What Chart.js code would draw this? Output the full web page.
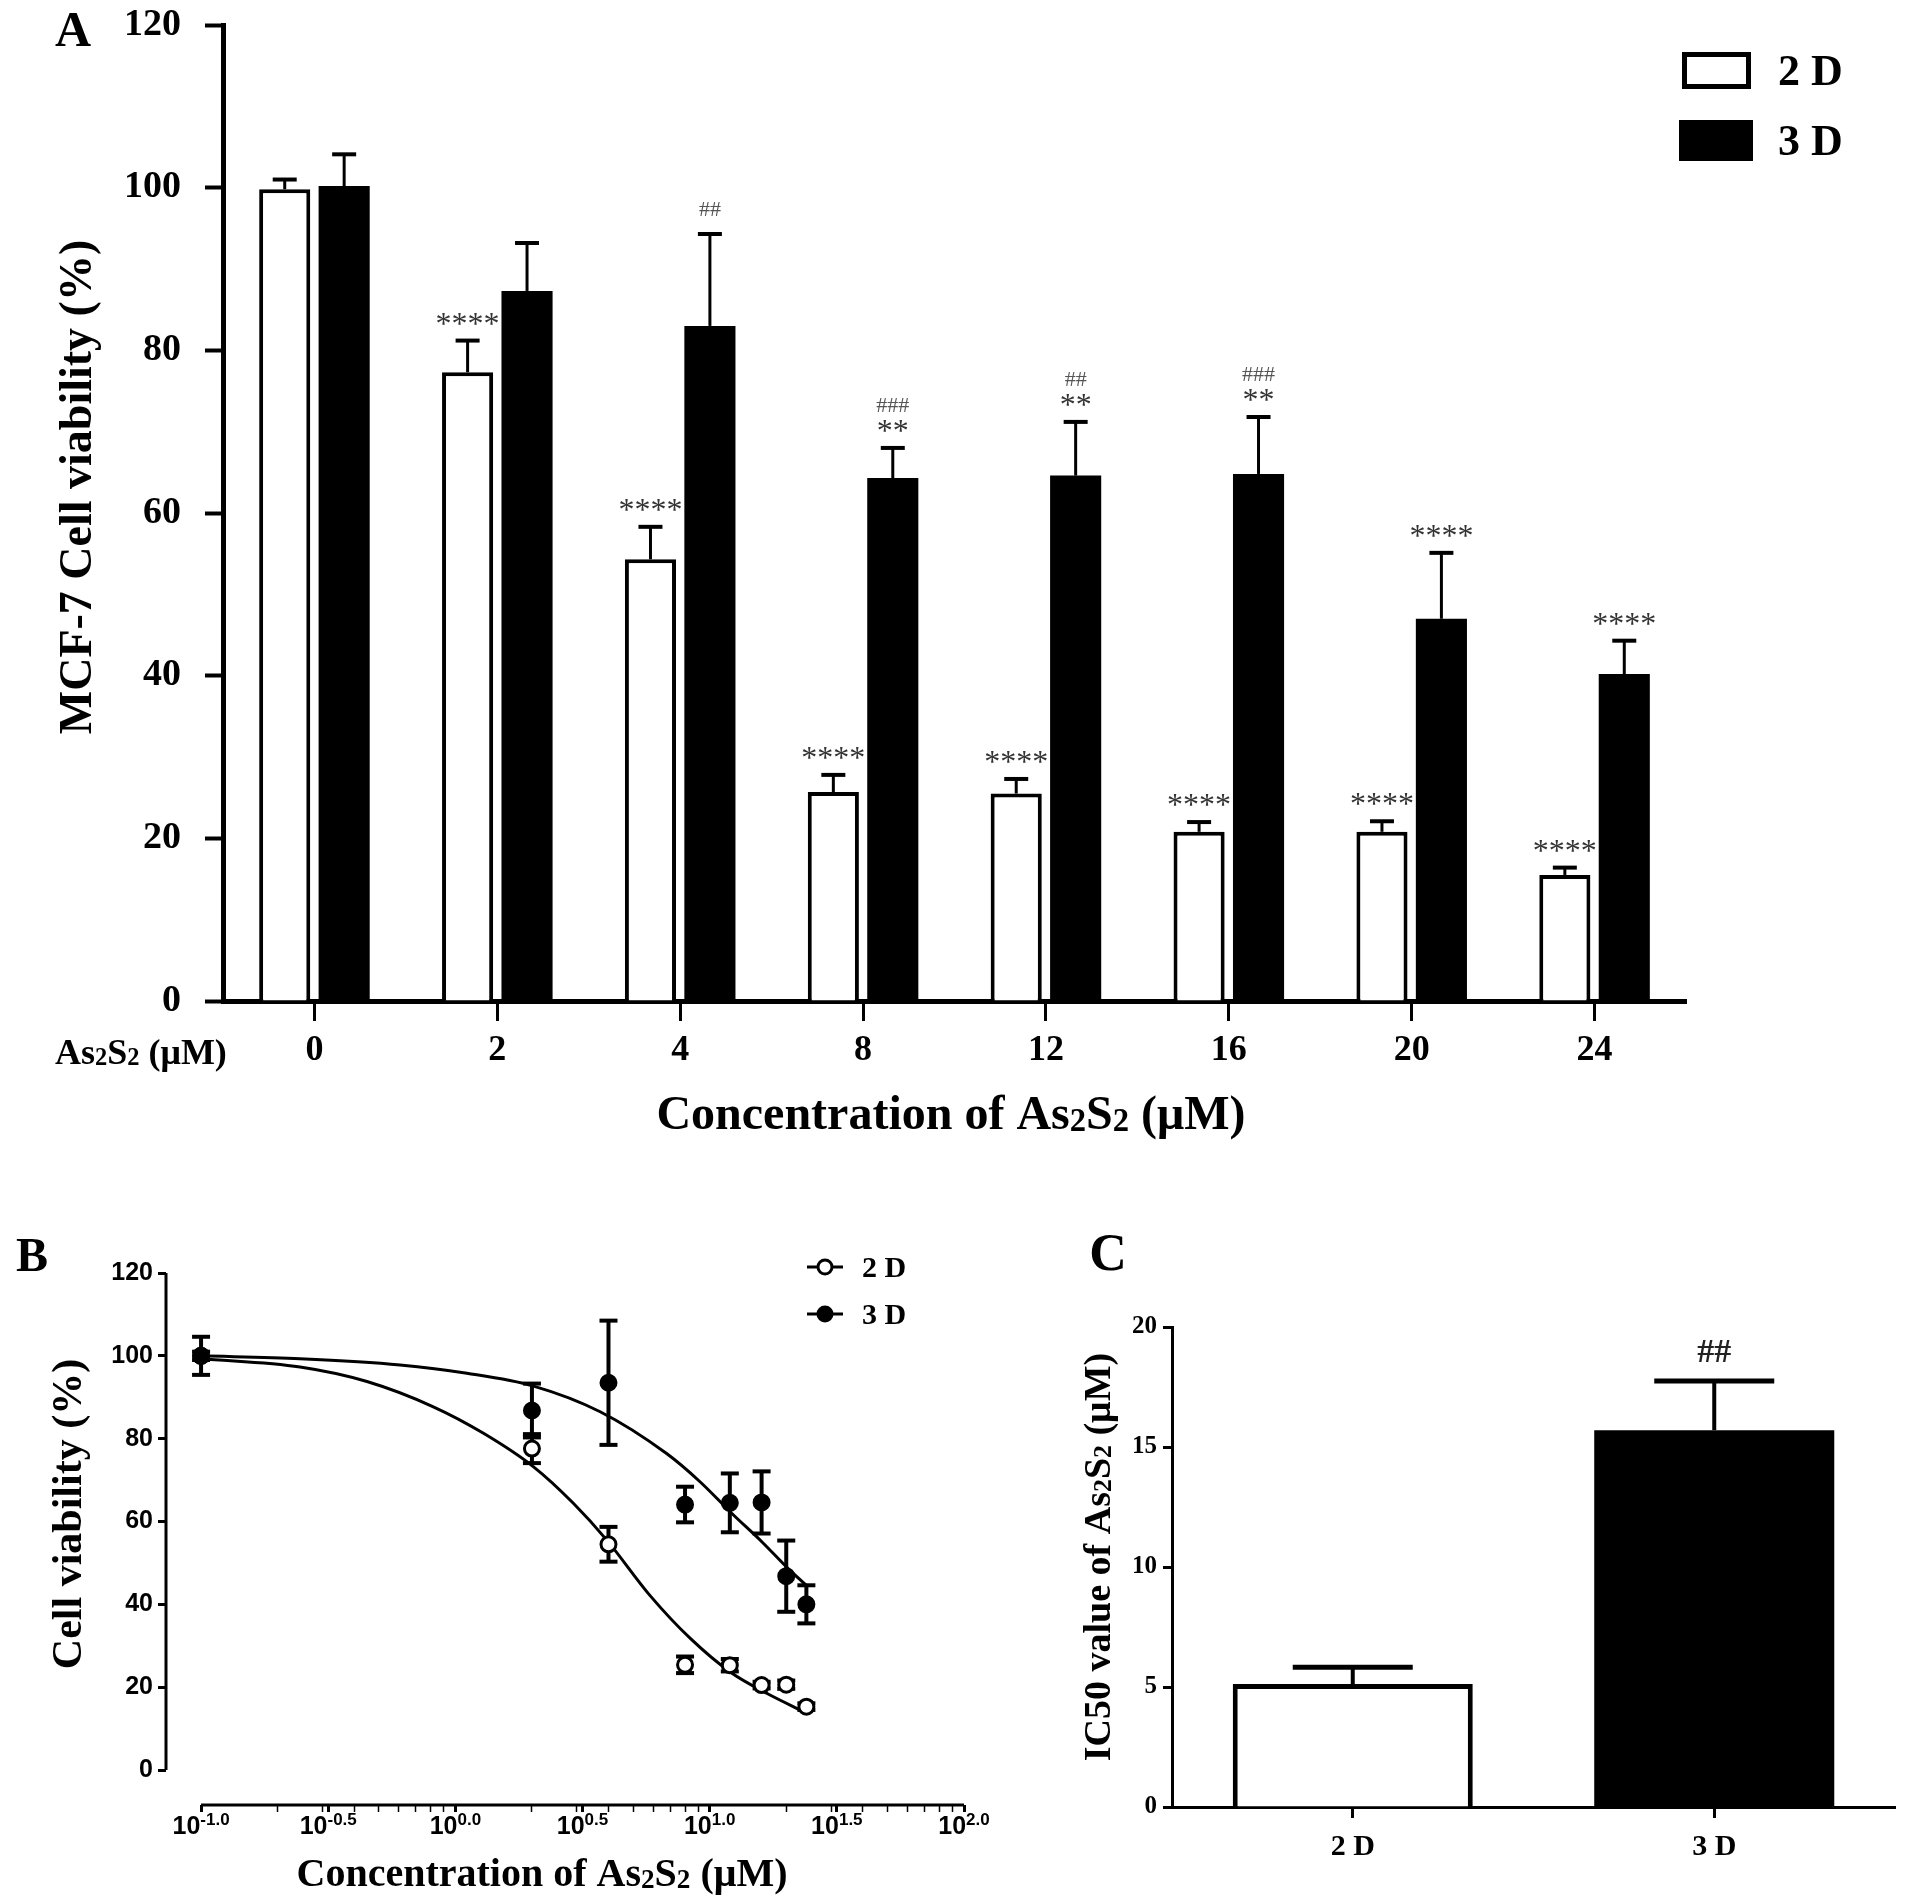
<!DOCTYPE html>
<html>
<head>
<meta charset="utf-8">
<script src="https://cdn.jsdelivr.net/npm/chart.js@4.4.0/dist/chart.umd.min.js"></script>
<style>
  html, body { margin: 0; padding: 0; background: #fff; }
  #page { position: relative; width: 1913px; height: 1903px; background: #fff; overflow: hidden; }
  canvas { position: absolute; }
</style>
</head>
<body>
<div id="page">
  <canvas id="chartA" width="1913" height="1160" style="left:0px;top:0px"></canvas>
  <canvas id="chartB" width="1050" height="703" style="left:0px;top:1200px"></canvas>
  <canvas id="chartC" width="863" height="703" style="left:1050px;top:1200px"></canvas>
</div>
<script>
// ---- panel A : viabilite MCF-7 (barres 2D / 3D)
const concLabels = ['0', '2', '4', '8', '12', '16', '20', '24'];
const via2D = [99.8, 77.3, 54.3, 25.7, 25.5, 20.8, 20.8, 15.5];
const sd2D = [1.2, 3.9, 4.0, 2.1, 1.8, 1.2, 1.3, 0.9];
const via3D = [100.2, 87.3, 83.0, 64.3, 64.6, 64.8, 47.0, 40.2];
const sd3D = [3.9, 5.9, 11.3, 3.7, 6.6, 7.0, 8.1, 4.1];
const star2D = ['', '****', '****', '****', '****', '****', '****', '****'];
const star3D = ['', '', '', '**', '**', '**', '****', '****'];
const hash3D = ['', '', '##', '###', '##', '###', '', ''];
const yTicksA = [0, 20, 40, 60, 80, 100, 120];

// ---- panel B : courbes dose-reponse (axe log)
const doseB = [0.1, 2, 4, 8, 12, 16, 20, 24];
const mean2DB = [100, 77.6, 54.5, 25.4, 25.3, 20.5, 20.6, 15.3];
const sd2DB = [1.0, 3.5, 4.2, 2.0, 1.5, 0.8, 1.0, 0.8];
const mean3DB = [100, 86.8, 93.5, 64.1, 64.5, 64.6, 46.8, 40.0];
const sd3DB = [4.6, 6.5, 15.0, 4.3, 7.1, 7.5, 8.6, 4.6];
const fit2DX = [0.1, 0.245, 0.449, 0.819, 1.29, 2.03, 2.91, 3.94, 5.83, 8.41, 12.2, 16.9, 23.9];
const fit2DY = [99.3, 97.3, 93.8, 87.7, 81.3, 73.2, 64.4, 55.5, 42.1, 31.7, 23.4, 18.4, 13.8];
const fit3DX = [0.1, 0.245, 0.606, 1.11, 2.03, 3.71, 6.77, 9.16, 12.2, 16.1, 20.3, 24.4];
const fit3DY = [100, 99.3, 97.8, 95.8, 92.7, 86.5, 76.4, 69.6, 62.0, 55.0, 48.7, 44.2];
const yTicksB = [0, 20, 40, 60, 80, 100, 120];
const expB = [-1, -0.5, 0, 0.5, 1, 1.5, 2];
const expLabelsB = ['-1.0', '-0.5', '0.0', '0.5', '1.0', '1.5', '2.0'];

// ---- panel C : IC50
const cLabels = ['2 D', '3 D'];
const ic50 = [5.12, 15.7];
const ic50sd = [0.7, 2.05];
const cMarks = ['', '##'];

const SERIF = "'Liberation Serif', 'Times New Roman', serif";
const NARROW = "'Liberation Sans Narrow', 'Liberation Sans', Arial, sans-serif";

function fnt(size, fam, weight) {
  return (weight || 'bold') + ' ' + size + 'px ' + (fam || SERIF);
}

// texte avec les "2" en indice (As2S2)
function richText(ctx, parts, size, x, y, rot, align) {
  ctx.save();
  ctx.translate(x, y);
  if (rot) ctx.rotate(rot);
  ctx.fillStyle = '#000';
  ctx.textBaseline = 'alphabetic';
  ctx.textAlign = 'left';
  let total = 0;
  const items = parts.map(p => {
    const sub = Array.isArray(p);
    const t = sub ? p[0] : p;
    const sz = sub ? size * 0.68 : size;
    ctx.font = fnt(sz);
    const w = ctx.measureText(t).width;
    total += w;
    return { t: t, sz: sz, w: w, sub: sub };
  });
  let cx = align === 'left' ? 0 : -total / 2;
  const base = size * 0.33;
  items.forEach(it => {
    ctx.font = fnt(it.sz);
    ctx.fillText(it.t, cx, base + (it.sub ? size * 0.04 : 0));
    cx += it.w;
  });
  ctx.restore();
}

function errBar(ctx, x, y1, y2, half, w1, w2) {
  ctx.save();
  ctx.strokeStyle = '#000';
  ctx.lineWidth = w1;
  ctx.beginPath(); ctx.moveTo(x, y1); ctx.lineTo(x, y2); ctx.stroke();
  ctx.lineWidth = w2;
  ctx.beginPath(); ctx.moveTo(x - half, y2); ctx.lineTo(x + half, y2); ctx.stroke();
  ctx.restore();
}

// ================= panel A
const extrasA = {
  id: 'extrasA',
  afterDatasetsDraw(chart) {
    const ctx = chart.ctx;
    const y = chart.scales.y;
    const sets = [[via2D, sd2D], [via3D, sd3D]];
    sets.forEach((s, di) => {
      chart.getDatasetMeta(di).data.forEach((bar, i) => {
        const top = y.getPixelForValue(s[0][i]);
        const cap = y.getPixelForValue(s[0][i] + s[1][i]);
        errBar(ctx, bar.x, top, cap, 12, 3, 4);
        ctx.save();
        ctx.textAlign = 'center';
        ctx.textBaseline = 'alphabetic';
        ctx.fillStyle = '#333';
        const stars = di === 0 ? star2D[i] : star3D[i];
        if (stars) {
          ctx.font = fnt(32, SERIF, 'normal');
          ctx.fillText(stars, bar.x, cap - 7);
        }
        if (di === 1 && hash3D[i]) {
          ctx.font = fnt(22, SERIF, 'normal');
          ctx.fillStyle = '#555';
          ctx.fillText(hash3D[i], bar.x, stars ? cap - 35.6 : cap - 17.6);
        }
        ctx.restore();
      });
    });
  },
  afterDraw(chart) {
    const ctx = chart.ctx;
    ctx.save();
    ctx.fillStyle = '#000';
    ctx.textAlign = 'center';
    ctx.textBaseline = 'alphabetic';
    ctx.font = fnt(50);
    ctx.fillText('A', 73, 29 + 50 * 0.33);
    // legende
    ctx.strokeStyle = '#000';
    ctx.lineWidth = 5;
    ctx.strokeRect(1684.5, 54.5, 64, 32);
    ctx.fillRect(1679, 120, 74, 41);
    ctx.textAlign = 'left';
    ctx.font = fnt(44);
    ctx.fillText('2 D', 1778, 70 + 44 * 0.33);
    ctx.fillText('3 D', 1778, 140 + 44 * 0.33);
    ctx.restore();
    richText(ctx, ['MCF-7 Cell viability (%)'], 46, 76, 487, -Math.PI / 2);
    richText(ctx, ['Concentration of As', ['2'], 'S', ['2'], ' (\u03bcM)'], 48, 951, 1113);
    richText(ctx, ['As', ['2'], 'S', ['2'], ' (\u03bcM)'], 36, 55, 1052, 0, 'left');
  }
};

new Chart(document.querySelector('#chartA'), {
  type: 'bar',
  data: {
    labels: concLabels,
    datasets: [{
      label: '2 D',
      data: via2D,
      backgroundColor: '#fff',
      borderColor: '#000',
      borderWidth: 4,
      categoryPercentage: 0.65,
      barPercentage: 0.86
    }, {
      label: '3 D',
      data: via3D,
      backgroundColor: '#000',
      borderColor: '#000',
      borderWidth: 0,
      categoryPercentage: 0.65,
      barPercentage: 0.86
    }]
  },
  options: {
    responsive: false,
    animation: false,
    devicePixelRatio: 1,
    layout: { padding: { top: 25, right: 227, left: 0, bottom: 0 } },
    plugins: { legend: { display: false }, tooltip: { enabled: false } },
    scales: {
      x: {
        grid: { offset: false, drawOnChartArea: false, tickLength: 20, tickWidth: 3, tickColor: '#000' },
        border: { display: true, color: '#000', width: 5 },
        ticks: { color: '#000', padding: 8, font: { family: SERIF, size: 36, weight: 'bold' } },
        afterFit(scale) { scale.height = 159; }
      },
      y: {
        min: 0,
        max: 120,
        afterBuildTicks(scale) { scale.ticks = yTicksA.map(v => ({ value: v })); },
        grid: { drawOnChartArea: false, tickLength: 18, tickWidth: 4, tickColor: '#000' },
        border: { display: true, color: '#000', width: 5 },
        ticks: { color: '#000', padding: 24, font: { family: SERIF, size: 38, weight: 'bold' } },
        afterFit(scale) { scale.width = 223; scale.paddingTop = 0; scale.paddingBottom = 0; }
      }
    }
  },
  plugins: [extrasA]
});

// ================= panel B
const extrasB = {
  id: 'extrasB',
  beforeDatasetsDraw(chart) {
    const ctx = chart.ctx;
    const x = chart.scales.x, y = chart.scales.y;
    [[mean2DB, sd2DB], [mean3DB, sd3DB]].forEach(s => {
      doseB.forEach((d, i) => {
        const px = x.getPixelForValue(d);
        const py = y.getPixelForValue(s[0][i]);
        errBar(ctx, px, py, y.getPixelForValue(s[0][i] + s[1][i]), 9, 4, 4);
        errBar(ctx, px, py, y.getPixelForValue(s[0][i] - s[1][i]), 9, 4, 4);
      });
    });
  },
  afterDraw(chart) {
    const ctx = chart.ctx;
    const x = chart.scales.x, y = chart.scales.y;
    const a = chart.chartArea;
    ctx.save();
    ctx.strokeStyle = '#000';
    ctx.lineWidth = 3;
    ctx.beginPath();
    ctx.moveTo(a.left, y.getPixelForValue(120));
    ctx.lineTo(a.left, y.getPixelForValue(0));
    ctx.stroke();
    ctx.beginPath();
    ctx.moveTo(x.getPixelForValue(0.1), a.bottom);
    ctx.lineTo(x.getPixelForValue(100), a.bottom);
    ctx.stroke();
    // etiquettes 10^n
    ctx.fillStyle = '#000';
    ctx.textAlign = 'left';
    ctx.textBaseline = 'alphabetic';
    expB.forEach((e, i) => {
      const px = x.getPixelForValue(Math.pow(10, e));
      ctx.font = fnt(25, NARROW);
      const w1 = ctx.measureText('10').width;
      ctx.font = fnt(17, NARROW);
      const w2 = ctx.measureText(expLabelsB[i]).width;
      const x0 = px - (w1 + w2) / 2;
      ctx.font = fnt(25, NARROW);
      ctx.fillText('10', x0, 634);
      ctx.font = fnt(17, NARROW);
      ctx.fillText(expLabelsB[i], x0 + w1, 625);
    });
    ctx.textAlign = 'center';
    ctx.font = fnt(48);
    ctx.fillText('B', 32, 55 + 48 * 0.33);
    // legende
    ctx.lineWidth = 3;
    [[67, '#fff', '2 D'], [114, '#000', '3 D']].forEach(l => {
      ctx.beginPath(); ctx.moveTo(807, l[0]); ctx.lineTo(843, l[0]); ctx.stroke();
      ctx.beginPath(); ctx.arc(825, l[0], 7, 0, Math.PI * 2);
      ctx.fillStyle = l[1]; ctx.fill(); ctx.stroke();
      ctx.fillStyle = '#000';
      ctx.textAlign = 'left';
      ctx.font = fnt(30);
      ctx.fillText(l[2], 862, l[0] + 30 * 0.33);
    });
    ctx.restore();
    richText(ctx, ['Cell viability (%)'], 42, 67, 314, -Math.PI / 2);
    richText(ctx, ['Concentration of As', ['2'], 'S', ['2'], ' (\u03bcM)'], 40, 542, 673);
  }
};

const majorB = expB.map(e => Math.pow(10, e));
new Chart(document.querySelector('#chartB'), {
  type: 'scatter',
  data: {
    datasets: [{
      label: '3 D',
      data: doseB.map((d, i) => ({ x: d, y: mean3DB[i] })),
      pointRadius: 8,
      pointBackgroundColor: '#000',
      pointBorderColor: '#000',
      pointBorderWidth: 2,
      order: 0
    }, {
      label: '2 D',
      data: doseB.map((d, i) => ({ x: d, y: mean2DB[i] })),
      pointRadius: 7.5,
      pointBackgroundColor: '#fff',
      pointBorderColor: '#000',
      pointBorderWidth: 3,
      order: 1
    }, {
      label: 'fit 2D',
      data: fit2DX.map((d, i) => ({ x: d, y: fit2DY[i] })),
      showLine: true,
      pointRadius: 0,
      borderColor: '#000',
      borderWidth: 3,
      cubicInterpolationMode: 'monotone',
      order: 2
    }, {
      label: 'fit 3D',
      data: fit3DX.map((d, i) => ({ x: d, y: fit3DY[i] })),
      showLine: true,
      pointRadius: 0,
      borderColor: '#000',
      borderWidth: 3,
      cubicInterpolationMode: 'monotone',
      order: 2
    }]
  },
  options: {
    responsive: false,
    animation: false,
    devicePixelRatio: 1,
    layout: { padding: { top: 73, right: 86, left: 0, bottom: 0 } },
    plugins: { legend: { display: false }, tooltip: { enabled: false } },
    scales: {
      x: {
        type: 'logarithmic',
        min: 0.0728,
        max: 100,
        afterBuildTicks(scale) {
          const t = majorB.slice();
          [0.1, 1, 10].forEach(dec => { for (let k = 2; k <= 9; k++) t.push(dec * k); });
          scale.ticks = t.sort((p, q) => p - q).map(v => ({ value: v }));
        },
        grid: {
          drawOnChartArea: false, tickLength: 7, tickColor: '#000',
          tickWidth: c => majorB.some(m => Math.abs(m - c.tick.value) < 1e-6) ? 3 : 1.5
        },
        border: { display: false },
        ticks: { display: false },
        afterFit(scale) { scale.height = 98; }
      },
      y: {
        min: -8.45,
        max: 120,
        afterBuildTicks(scale) { scale.ticks = yTicksB.map(v => ({ value: v })); },
        grid: { drawOnChartArea: false, tickLength: 8, tickWidth: 3, tickColor: '#000' },
        border: { display: false },
        ticks: { color: '#000', padding: 5, font: { family: NARROW, size: 25, weight: 'bold' } },
        afterFit(scale) { scale.width = 166; }
      }
    }
  },
  plugins: [extrasB]
});

// ================= panel C
const extrasC = {
  id: 'extrasC',
  afterDatasetsDraw(chart) {
    const ctx = chart.ctx;
    const y = chart.scales.y;
    chart.getDatasetMeta(0).data.forEach((bar, i) => {
      const cap = y.getPixelForValue(ic50[i] + ic50sd[i]);
      errBar(ctx, bar.x, y.getPixelForValue(ic50[i]), cap, 60, 4, 5);
      if (cMarks[i]) {
        ctx.save();
        ctx.fillStyle = '#222';
        ctx.textAlign = 'center';
        ctx.textBaseline = 'alphabetic';
        ctx.font = fnt(34);
        ctx.fillText(cMarks[i], bar.x, 151 + 34 * 0.33);
        ctx.restore();
      }
    });
  },
  afterDraw(chart) {
    const ctx = chart.ctx;
    ctx.save();
    ctx.fillStyle = '#000';
    ctx.textAlign = 'center';
    ctx.textBaseline = 'alphabetic';
    ctx.font = fnt(52);
    ctx.fillText('C', 58, 53 + 52 * 0.33);
    ctx.restore();
    richText(ctx, ['IC50 value of As', ['2'], 'S', ['2'], ' (\u03bcM)'], 38, 47, 357, -Math.PI / 2);
  }
};

new Chart(document.querySelector('#chartC'), {
  type: 'bar',
  data: {
    labels: cLabels,
    datasets: [{
      label: 'IC50',
      data: ic50,
      backgroundColor: ['#fff', '#000'],
      borderColor: '#000',
      borderWidth: [5, 0],
      categoryPercentage: 1,
      barPercentage: 0.664
    }]
  },
  options: {
    responsive: false,
    animation: false,
    devicePixelRatio: 1,
    layout: { padding: { top: 127, right: 18, left: 0, bottom: 0 } },
    plugins: { legend: { display: false }, tooltip: { enabled: false } },
    scales: {
      x: {
        grid: { offset: false, drawOnChartArea: false, tickLength: 11, tickWidth: 3, tickColor: '#000' },
        border: { display: true, color: '#000', width: 3 },
        ticks: { color: '#000', padding: 11, font: { family: SERIF, size: 30, weight: 'bold' } },
        afterFit(scale) { scale.height = 96; }
      },
      y: {
        min: 0,
        max: 20,
        ticks: { stepSize: 5, color: '#000', padding: 6, font: { family: SERIF, size: 25, weight: 'bold' } },
        grid: { drawOnChartArea: false, tickLength: 9, tickWidth: 3, tickColor: '#000' },
        border: { display: true, color: '#000', width: 3 },
        afterFit(scale) { scale.width = 122; }
      }
    }
  },
  plugins: [extrasC]
});
</script>
</body>
</html>
